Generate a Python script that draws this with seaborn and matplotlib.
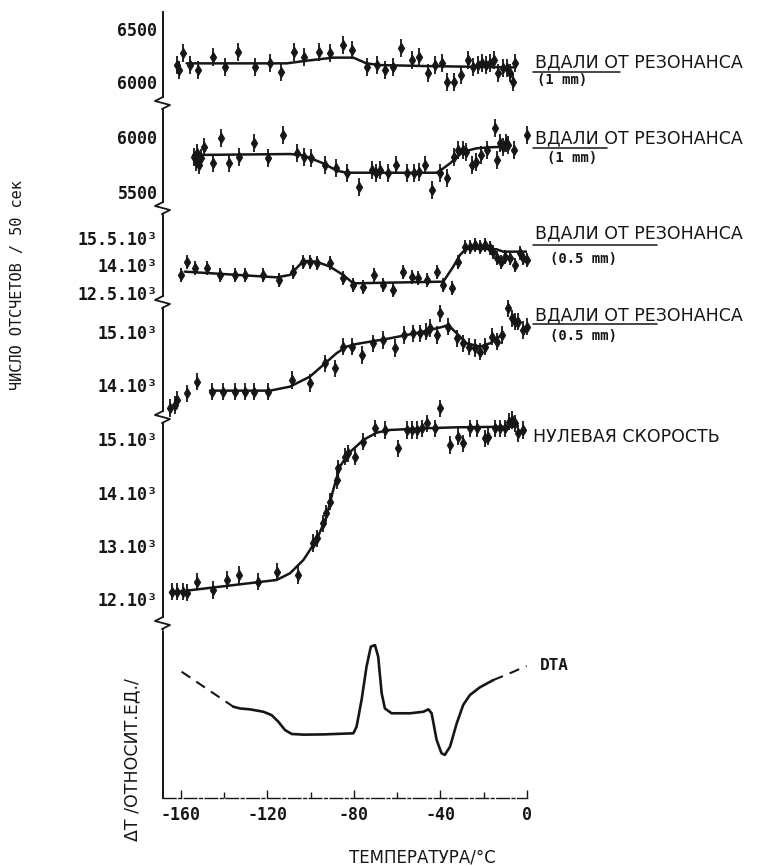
import matplotlib
matplotlib.use("Agg")
import matplotlib.pyplot as plt
from matplotlib.lines import Line2D
import seaborn as sns

# ---------------- data ----------------
# panel 1: far from resonance, 1 mm
p1_t = [-161.7, -160.8, -158.9, -155.8, -152.0, -145.4, -139.7, -133.5, -125.8, -118.8,
        -113.9, -107.6, -103.0, -96.0, -91.1, -85.2, -80.8, -74.2, -69.3, -65.7,
        -61.8, -58.4, -53.4, -50.0, -45.6, -42.6, -39.5, -36.9, -33.8, -30.7,
        -27.5, -24.8, -22.5, -21.0, -19.0, -17.1, -15.3, -13.3, -11.0, -9.4,
        -7.9, -6.3, -5.6]
p1_v = [6160, 6113, 6270, 6160, 6113, 6239, 6145, 6286, 6145, 6176,
        6098, 6286, 6239, 6286, 6270, 6349, 6302, 6145, 6160, 6113,
        6145, 6318, 6208, 6239, 6082, 6160, 6176, 6003, 6003, 6066,
        6208, 6145, 6160, 6176, 6160, 6176, 6208, 6082, 6129, 6129,
        6082, 6003, 6176]
p1_fit_t = [-157.4, -111.1, -101.9, -89.6, -80.3, -74.2, -68.0, -48.0, -6.3]
p1_fit_v = [6176, 6176, 6201, 6230, 6230, 6176, 6160, 6151, 6138]

# panel 2: far from resonance, 1 mm
p2_t = [-154.0, -153.2, -152.5, -151.5, -150.7, -149.2, -145.4, -141.5, -137.7, -133.2,
        -126.2, -119.9, -112.7, -106.5, -103.0, -99.9, -93.4, -88.3, -83.4, -77.5,
        -71.8, -70.0, -68.0, -64.4, -60.7, -55.3, -52.3, -49.8, -47.2, -44.1,
        -40.3, -36.9, -33.8, -31.8, -29.8, -28.2, -25.6, -23.6, -21.4, -18.4,
        -14.8, -13.7, -12.5, -11.0, -9.7, -8.6, -6.0, -0.2]
p2_v = [5821, 5775, 5851, 5745, 5806, 5912, 5760, 5987, 5760, 5821,
        5942, 5806, 6018, 5851, 5821, 5806, 5745, 5715, 5669, 5548,
        5700, 5669, 5700, 5669, 5745, 5669, 5669, 5684, 5745, 5518,
        5669, 5624, 5821, 5881, 5881, 5866, 5745, 5775, 5836, 5881,
        6078, 5791, 5942, 5912, 5942, 5927, 5881, 6018]
p2_fit_t = [-154.3, -109.6, -103.4, -94.2, -88.0, -83.4, -41.8, -38.7, -35.6, -29.5,
            -23.3, -17.1, -9.4]
p2_fit_v = [5836, 5845, 5833, 5760, 5694, 5675, 5675, 5715, 5760, 5866,
            5897, 5906, 5912]

# panel 3: far from resonance, 0.5 mm
p3_t = [-160.2, -157.4, -153.5, -148.1, -142.0, -135.0, -130.4, -122.2, -114.5, -108.1,
        -103.4, -100.4, -97.3, -91.1, -85.0, -80.3, -75.7, -70.8, -66.4, -62.1,
        -57.2, -53.3, -50.3, -46.1, -41.8, -38.7, -34.8, -31.8, -28.7, -26.4,
        -24.1, -21.7, -19.4, -17.1, -15.6, -14.0, -12.2, -10.2, -7.9, -5.5,
        -3.3, -1.7, 0.1]
p3_v = [13483, 14210, 13846, 13846, 13483, 13483, 13483, 13483, 13210, 13664,
        14210, 14210, 14119, 14119, 13301, 12937, 12846, 13483, 12937, 12664,
        13664, 13392, 13301, 13210, 13664, 12937, 12755, 14210, 15028, 15028,
        15119, 15028, 15119, 14937, 14755, 14392, 14210, 14483, 14392, 14028,
        14664, 14392, 14301]
p3_fit_t = [-158.2, -115.8, -109.6, -103.4, -97.3, -91.1, -85.0, -80.3, -38.7, -34.1,
            -31.0, -27.9, -14.0, -11.0, -0.2]
p3_fit_v = [13664, 13355, 13483, 14246, 14210, 13937, 13483, 13028, 13119, 13937,
            14573, 14937, 14882, 14755, 14755]

# panel 4: far from resonance, 0.5 mm
p4_t = [-165.1, -162.8, -161.7, -157.4, -152.5, -145.8, -140.7, -135.0, -130.4, -126.1,
        -119.6, -108.8, -100.4, -93.4, -88.8, -85.0, -81.1, -76.5, -71.1, -66.4,
        -61.0, -56.9, -52.9, -49.5, -46.7, -44.9, -41.8, -40.3, -36.4, -32.5,
        -29.5, -26.7, -24.1, -21.7, -19.5, -16.4, -14.0, -11.7, -8.7, -7.1,
        -5.5, -4.0, -1.7, -0.2]
p4_v = [13563, 13625, 13719, 13844, 14063, 13875, 13875, 13875, 13875, 13875,
        13875, 14094, 14032, 14407, 14313, 14720, 14720, 14563, 14782, 14845,
        14689, 14939, 14970, 14970, 15001, 15064, 14939, 15345, 15095, 14876,
        14782, 14720, 14689, 14626, 14720, 14907, 14814, 14939, 15439, 15251,
        15189, 15189, 15032, 15095]
p4_fit_t = [-146.6, -118.8, -109.6, -100.4, -94.2, -88.1, -83.4, -78.8, -63.4, -48.0,
            -38.7, -36.4, -32.5, -27.9, -21.7, -17.1, -11.7]
p4_fit_v = [13894, 13894, 13969, 14157, 14376, 14595, 14720, 14770, 14876, 15001,
            15095, 15126, 14970, 14782, 14720, 14782, 14939]

# panel 5: zero velocity
p5_t = [-164.3, -161.7, -159.2, -157.1, -152.5, -145.4, -138.9, -133.2, -124.2, -115.8,
        -105.7, -99.1, -97.3, -94.2, -93.0, -91.1, -88.0, -87.3, -84.2, -82.7,
        -79.5, -75.7, -70.3, -65.7, -59.5, -55.7, -53.3, -51.0, -48.7, -46.4,
        -42.5, -40.2, -35.6, -31.8, -29.5, -26.4, -23.3, -19.4, -17.9, -14.8,
        -12.5, -10.2, -8.2, -7.1, -5.6, -4.0, -1.7]
p5_v = [12143, 12143, 12143, 12125, 12331, 12175, 12362, 12456, 12331, 12518,
        12456, 13050, 13143, 13425, 13612, 13831, 14237, 14456, 14675, 14737,
        14675, 14956, 15206, 15175, 14831, 15175, 15175, 15175, 15206, 15300,
        15206, 15581, 14893, 15050, 14925, 15206, 15206, 15018, 15050, 15206,
        15206, 15206, 15331, 15362, 15300, 15112, 15175]
p5_fit_t = [-165.1, -115.8, -109.6, -103.4, -97.3, -92.7, -89.6, -86.5, -82.5, -75.7,
            -69.5, -63.4, -48.0, -32.5, -6.3]
p5_fit_v = [12125, 12362, 12487, 12737, 13112, 13550, 14050, 14487, 14737, 14987,
            15125, 15175, 15206, 15225, 15237]

# DTA trace (relative units): dashed ends, solid middle
dta_left_t = [-159.7, -135.8]
dta_left_v = [5.74, 4.15]
dta_main_t = [-135.8, -132.7, -128.1, -121.9, -118.1, -115.0, -111.9, -108.8, -103.4, -94.2,
              -80.3, -78.8, -76.5, -74.2, -72.2, -70.3, -68.8, -67.2, -65.7, -62.6,
              -54.1, -47.9, -45.6, -44.1, -41.8, -39.5, -38.0, -35.6, -32.5, -29.5,
              -26.4, -21.8, -15.6]
dta_main_v = [4.15, 4.07, 4.03, 3.92, 3.77, 3.47, 3.09, 2.91, 2.88, 2.89,
              2.94, 3.24, 4.45, 5.97, 6.88, 6.95, 6.42, 4.76, 4.07, 3.85,
              3.85, 3.92, 4.03, 3.85, 2.64, 2.03, 1.96, 2.33, 3.39, 4.23,
              4.68, 5.03, 5.36]
dta_right_t = [-15.6, -7.9, -0.2]
dta_right_v = [5.36, 5.67, 6.00]

# per-panel statistical error (counts)
p1_err, p2_err, p3_err, p4_err, p5_err = 85, 82, 380, 165, 165

# axis ticks and labels
p1_ticks, p1_labels = [6000, 6500], ["6000", "6500"]
p2_ticks, p2_labels = [5500, 6000], ["5500", "6000"]
p3_ticks, p3_labels = [12500, 14000, 15500], ["12.5.10³", "14.10³", "15.5.10³"]
p4_ticks, p4_labels = [14000, 15000], ["14.10³", "15.10³"]
p5_ticks, p5_labels = [12000, 13000, 14000, 15000], ["12.10³", "13.10³", "14.10³", "15.10³"]
dta_ticks = [2, 3, 4, 5, 6, 7]
x_major = [-160, -120, -80, -40, 0]
x_minor = [-140, -100, -60, -20]

# ---------------- layout ----------------
W, H = 783, 866
INK = "#161616"
X0, X1 = 163, 527          # pixel extent of the temperature axis
XLIM = (-168.3, 0.0)

sns.set_theme(style="white")
plt.rcParams["font.family"] = ["DejaVu Sans Mono", "DejaVu Sans"]
plt.rcParams["axes.facecolor"] = "white"

fig = plt.figure(figsize=(W / 100, H / 100), dpi=100, facecolor="white")


def fx(px):
    return px / W


def fy(py):
    return 1 - py / H


def panel(top, bottom, ylim):
    ax = fig.add_axes([fx(X0), fy(bottom), (X1 - X0) / W, (bottom - top) / H])
    ax.set_xlim(*XLIM)
    ax.set_ylim(*ylim)
    for s in ("top", "right", "bottom"):
        ax.spines[s].set_visible(False)
    ax.spines["left"].set_color(INK)
    ax.spines["left"].set_linewidth(1.4)
    ax.tick_params(axis="y", direction="in", length=5, width=1.0, color=INK,
                   pad=4, labelsize=12, labelcolor=INK)
    ax.tick_params(axis="x", bottom=False, labelbottom=False)
    ax.grid(False)
    ax.patch.set_alpha(0)
    return ax


def draw_series(ax, t, v, err, ft, fv):
    ax.errorbar(t, v, yerr=err, fmt="none", ecolor=INK, elinewidth=1.3,
                capsize=0, clip_on=False, zorder=3)
    sns.scatterplot(x=t, y=v, ax=ax, marker="d", s=30, color=INK,
                    edgecolor=INK, linewidth=0.6, clip_on=False, zorder=4)
    sns.lineplot(x=ft, y=fv, ax=ax, color=INK, lw=1.8, sort=False,
                 estimator=None, zorder=2)
    ax.set_xlabel("")
    ax.set_ylabel("")


def ticks(ax, pos, labels):
    ax.set_yticks(pos)
    ax.set_yticklabels(labels, fontweight="bold")


def zigzag(py):
    xs = [X0, X0 - 8, X0 + 7, X0 - 1, X0]
    ys = [py, py + 4, py + 8, py + 12, py + 13]
    fig.add_artist(Line2D([fx(x) for x in xs], [fy(y) for y in ys],
                          transform=fig.transFigure, color=INK, lw=1.3))


# stacked panels: (top px, bottom px, y-limits)
ax1 = panel(12, 97, (5859, 6660))
draw_series(ax1, p1_t, p1_v, p1_err, p1_fit_t, p1_fit_v)
ticks(ax1, p1_ticks, p1_labels)

ax2 = panel(110, 202, (5409, 6245))
draw_series(ax2, p2_t, p2_v, p2_err, p2_fit_t, p2_fit_v)
ticks(ax2, p2_ticks, p2_labels)

ax3 = panel(216, 296, (12336, 16700))
draw_series(ax3, p3_t, p3_v, p3_err, p3_fit_t, p3_fit_v)
ticks(ax3, p3_ticks, p3_labels)

ax4 = panel(309, 411, (13512, 15426))
draw_series(ax4, p4_t, p4_v, p4_err, p4_fit_t, p4_fit_v)
ticks(ax4, p4_ticks, p4_labels)

ax5 = panel(424, 617, (11668, 15287))
draw_series(ax5, p5_t, p5_v, p5_err, p5_fit_t, p5_fit_v)
ticks(ax5, p5_ticks, p5_labels)

ax6 = panel(632, 798, (0, 7.545))
sns.lineplot(x=dta_main_t, y=dta_main_v, ax=ax6, color=INK, lw=1.9,
             sort=False, estimator=None)
sns.lineplot(x=dta_left_t, y=dta_left_v, ax=ax6, color=INK, lw=1.5,
             sort=False, estimator=None, linestyle=(0, (5, 3.5)))
sns.lineplot(x=dta_right_t, y=dta_right_v, ax=ax6, color=INK, lw=1.5,
             sort=False, estimator=None, linestyle=(0, (5, 3.5)))
ax6.set_xlabel("")
ax6.set_ylabel("")
ax6.set_yticks(dta_ticks)
ax6.set_yticklabels([])
ax6.spines["bottom"].set_visible(True)
ax6.spines["bottom"].set_color(INK)
ax6.spines["bottom"].set_linewidth(1.0)
ax6.spines["bottom"].set_linestyle((0, (9, 2, 2, 2)))
ax6.set_xticks(x_major)
ax6.set_xticks(x_minor, minor=True)
ax6.set_xticklabels(["-160", "-120", "-80", "-40", "0"], fontweight="bold")
ax6.tick_params(axis="x", which="major", bottom=True, labelbottom=True,
                direction="in", length=6, width=1.0, color=INK, pad=6,
                labelsize=12, labelcolor=INK)
ax6.tick_params(axis="x", which="minor", bottom=True, direction="in",
                length=4, width=1.0, color=INK)

for py in (97, 202, 296, 411, 617):
    zigzag(py)

# ---------------- annotations ----------------
lab = dict(color=INK, fontsize=12.5, va="center", ha="left",
           family=["DejaVu Sans", "DejaVu Sans Mono"])
sub = dict(color=INK, fontsize=10, va="center", ha="left", fontweight="bold")

fig.text(fx(535), fy(62), "ВДАЛИ ОТ РЕЗОНАНСА", **lab)
fig.text(fx(537), fy(80), "(1 mm)", **sub)
fig.text(fx(535), fy(138), "ВДАЛИ ОТ РЕЗОНАНСА", **lab)
fig.text(fx(547), fy(158), "(1 mm)", **sub)
fig.text(fx(535), fy(233), "ВДАЛИ ОТ РЕЗОНАНСА", **lab)
fig.text(fx(550), fy(259), "(0.5 mm)", **sub)
fig.text(fx(535), fy(315), "ВДАЛИ ОТ РЕЗОНАНСА", **lab)
fig.text(fx(550), fy(336), "(0.5 mm)", **sub)
fig.text(fx(533), fy(437), "НУЛЕВАЯ СКОРОСТЬ", **lab)
fig.text(fx(540), fy(665), "DTA", color=INK, fontsize=11.5, va="center",
         ha="left", fontweight="bold")

for (a, b, py) in ((533, 620, 72), (533, 607, 148), (533, 657, 245), (533, 657, 324)):
    fig.add_artist(Line2D([fx(a), fx(b)], [fy(py), fy(py)],
                          transform=fig.transFigure, color=INK, lw=1.1))

fig.text(fx(18), fy(285), "ЧИСЛО ОТСЧЕТОВ / 50 сек", rotation=90,
         color=INK, fontsize=11, ha="center", va="center")
fig.text(fx(132), fy(760), "ΔT /ОТНОСИТ.ЕД./", rotation=90,
         color=INK, fontsize=12.5, ha="center", va="center",
         family=["DejaVu Sans", "DejaVu Sans Mono"])
fig.text(fx(422), fy(857), "ТЕМПЕРАТУРА/°C", color=INK, fontsize=12,
         ha="center", va="center", family=["DejaVu Sans", "DejaVu Sans Mono"])

fig.savefig("out.png", dpi=100, facecolor="white")
